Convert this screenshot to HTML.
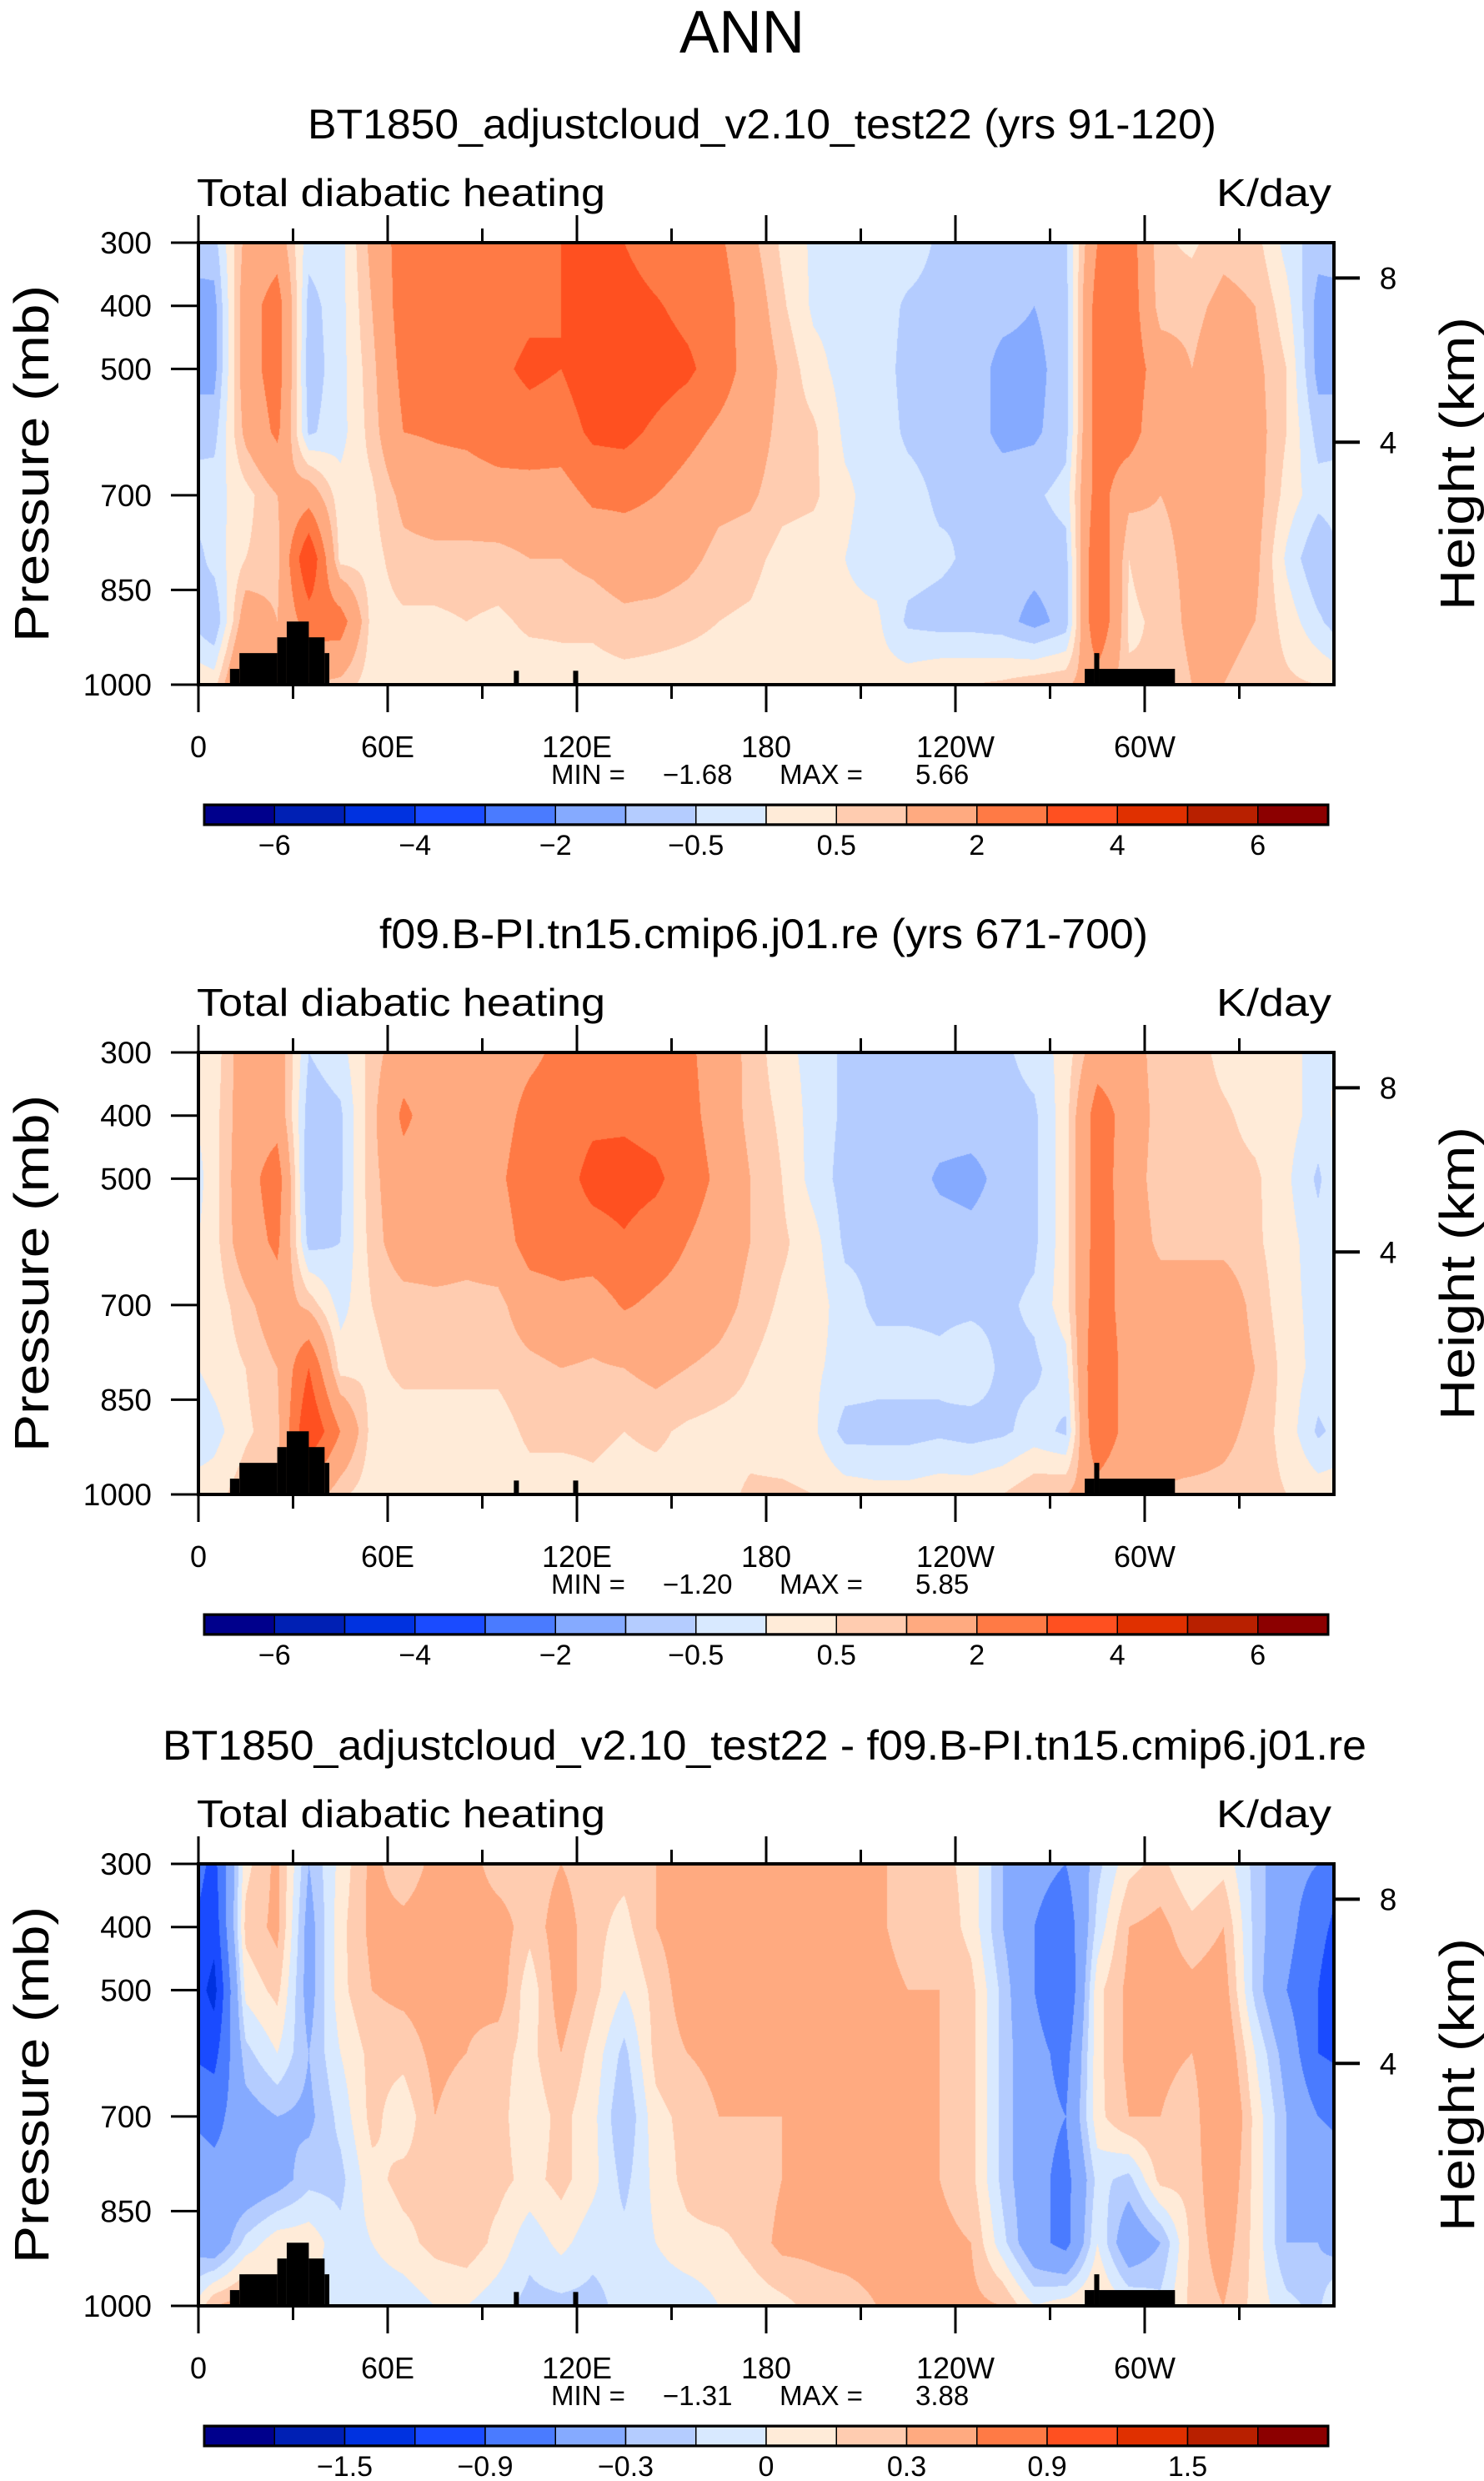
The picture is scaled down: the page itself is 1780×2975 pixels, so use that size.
<!DOCTYPE html>
<html><head><meta charset="utf-8">
<style>
html,body{margin:0;padding:0;background:#fff;}
#wrap{position:relative;width:1780px;height:2975px;overflow:hidden;}
canvas{position:absolute;}
svg{position:absolute;left:0;top:0;}
text{font-family:"Liberation Sans",sans-serif;fill:#000;}
</style></head>
<body>
<div id="wrap">
<canvas id="c0"></canvas>
<canvas id="c1"></canvas>
<canvas id="c2"></canvas>
<svg id="ov" width="1780" height="2975"></svg>
</div>
<script>
// ---------- data ----------
const lonCenters = [5,15,25,35,45,55,65,75,85,95,105,115,125,135,145,155,165,175,185,195,205,215,225,235,245,255,265,275,285,295,305,315,325,335,345,355];
const pLevels = [300,400,500,600,700,800,900,1000];
const pressureTicks = [300,400,500,700,850,1000];
const lonTicks = [0,60,120,180,240,300];
const lonTickLabels = ["0","60E","120E","180","120W","60W"];
const heightTicks = [8,4];
const heightTickPress = [356,616];
const absLevels = [-6,-5,-4,-3,-2,-1,-0.5,0,0.5,1,2,3,4,5,6];
const absLabels = ["-6","","-4","","-2","","-0.5","","0.5","","2","","4","","6"];
const diffLevels = [-1.8,-1.5,-1.2,-0.9,-0.6,-0.3,-0.15,0,0.15,0.3,0.6,0.9,1.2,1.5,1.8];
const diffLabels = ["","-1.5","","-0.9","","-0.3","","0","","0.3","","0.9","","1.5",""];
const colors = ["#00008C","#0020B4","#0032E0","#1A4BFF","#4A7BFF","#85AAFF","#B4CCFF","#D8E9FF","#FFEBD8","#FFCCB0","#FFAA80","#FF7A45","#FF5020","#E03000","#B82000","#8C0000"];
const landStart = [10,13,25,28,35,40,100,118.8,281,284,285.6];
const landEnd   = [13,25,28,35,40,41.5,101.6,120.4,284,285.6,309.6];
const landTop   = [975,950,925,900,925,950,978,978,975,950,975];

const ctlField = [
[-0.7,-1.2,-1.2,-0.7,-0.2,-0.3,-1.0,0.3],
[1.2,1.5,1.5,1.2,0.3,0.5,1.5,2.5],
[1.5,2.5,2.5,2.2,1.0,0.8,1.0,1.0],
[-0.3,-0.7,-0.8,-0.6,1.5,4,2.5,1],
[-0.2,-0.2,-0.2,-0.2,0.2,0.3,2.5,0.8],
[1.2,1.0,0.8,0.7,0.4,0.3,0.3,0.2],
[2.5,2.5,2.3,2.0,1.2,0.8,0.4,0.2],
[2.5,2.5,2.5,2.1,1.5,0.8,0.4,0.2],
[2.5,2.5,2.6,2.2,1.5,0.8,0.5,0.2],
[2.2,2.5,2.8,2.5,1.6,0.8,0.4,0.2],
[2.5,2.8,3.2,2.6,1.6,1.0,0.6,0.2],
[3.0,3.0,3.0,2.5,1.6,1.0,0.6,0.3],
[3.2,3.3,3.6,3.2,2.2,1.2,0.6,0.3],
[3.0,3.4,3.8,3.3,2.2,1.5,0.8,0.3],
[2.5,3.1,3.5,2.8,2.0,1.5,0.7,0.3],
[2.3,2.7,3.2,2.3,1.6,1.2,0.6,0.3],
[2.2,2.5,2.5,1.8,1.2,0.8,0.5,0.3],
[1.2,1.5,1.6,1.4,1.1,0.7,0.4,0.2],
[0.4,0.6,0.9,0.8,0.7,0.3,0.1,0.2],
[-0.1,-0.1,0.2,0.6,0.6,0.2,0.1,0.2],
[-0.2,-0.2,-0.2,-0.1,0.1,0.0,0.1,0.2],
[-0.2,-0.2,-0.2,-0.2,-0.2,-0.2,0.1,0.2],
[-0.2,-0.6,-0.7,-0.6,-0.3,-0.3,-0.6,0.3],
[-0.6,-0.7,-0.7,-0.7,-0.6,-0.4,-0.7,0.5],
[-0.7,-0.7,-0.7,-0.7,-0.5,-0.6,-0.7,0.5],
[-0.7,-0.8,-1.2,-1.2,-0.6,-0.7,-0.8,0.6],
[-0.7,-1.0,-1.2,-1.1,-0.6,-0.8,-1.2,0.8],
[-0.6,-0.7,-0.7,-0.7,-0.3,-0.7,-0.8,0.9],
[2.0,2.5,2.5,2.5,2.5,3.0,3.0,1.5],
[2.5,2.6,2.6,2.5,1.2,0.5,0.4,0.6],
[0.6,0.7,1.5,1.2,1.0,0.8,0.6,0.5],
[0.4,0.8,1.0,1.0,1.2,1.2,1.2,1.0],
[0.8,1.2,1.5,1.5,1.5,1.5,1.2,1.0],
[0.7,1.0,1.2,1.3,1.3,1.2,1.0,0.8],
[-0.2,0.2,0.5,0.5,0.3,-0.1,0.3,0.6],
[-0.8,-1.2,-1.2,-0.7,-0.3,-1.0,-0.4,0.5]];

const refField = [
[0.2,0.3,0.3,0.3,0.2,0.2,-0.2,0.3],
[1.5,1.5,1.6,1.5,0.8,0.5,0.4,0.8],
[1.5,1.6,2.5,2.2,1.5,1.0,0.8,1.0],
[-0.5,-0.8,-1.0,-0.7,0.8,3.0,4.0,1.5],
[-0.2,-0.6,-0.6,-0.5,-0.2,0.3,2.0,0.6],
[0.7,0.8,0.8,0.7,0.5,0.4,0.3,0.2],
[1.5,2.2,1.6,1.5,0.7,0.6,0.3,0.2],
[1.5,1.5,1.5,1.5,0.8,0.6,0.3,0.2],
[1.5,1.5,1.5,1.3,0.8,0.6,0.3,0.2],
[1.5,1.6,1.8,1.5,0.8,0.6,0.3,0.2],
[1.8,2.3,2.6,2.4,1.5,0.8,0.6,0.3],
[2.2,2.5,2.6,2.5,1.7,1.0,0.6,0.3],
[2.5,2.8,3.3,2.6,1.5,0.9,0.6,0.4],
[2.5,2.8,3.4,2.9,2.1,1.0,0.5,0.3],
[2.5,2.6,3.2,2.5,1.8,1.2,0.6,0.3],
[2.2,2.3,2.5,2.0,1.6,1.0,0.4,0.3],
[1.5,1.6,1.8,1.5,1.3,0.8,0.3,0.3],
[0.8,0.8,1.0,1.0,0.8,0.5,0.3,0.6],
[0.2,0.4,0.5,0.6,0.4,0.2,0.2,0.6],
[-0.2,-0.2,-0.2,0.2,0.3,0.1,0.1,0.5],
[-0.6,-0.6,-0.7,-0.6,-0.3,-0.2,-0.7,0.3],
[-0.6,-0.7,-0.7,-0.6,-0.6,-0.3,-0.7,0.2],
[-0.6,-0.7,-0.7,-0.7,-0.6,-0.3,-0.7,0.2],
[-0.6,-0.7,-1.1,-0.7,-0.6,-0.4,-0.6,0.3],
[-0.6,-0.7,-1.2,-0.8,-0.6,-0.2,-0.7,0.3],
[-0.6,-0.7,-0.8,-0.7,-0.6,-0.6,-0.6,0.5],
[-0.3,-0.6,-0.6,-0.6,-0.4,-0.6,-0.3,0.9],
[0.2,0.3,0.3,0.3,0.3,-0.2,-0.6,1.0],
[1.5,2.5,2.5,2.5,2.6,3.0,3.0,1.5],
[1.5,1.6,1.5,1.6,1.5,1.5,1.5,1.0],
[0.6,0.7,0.6,0.8,1.5,1.5,1.2,1.0],
[0.8,0.8,0.7,0.8,1.5,1.2,1.5,0.8],
[0.3,0.6,0.7,0.8,1.5,1.5,1.2,0.8],
[0.2,0.3,0.6,0.6,0.8,1.0,0.8,0.7],
[0.2,0.2,0.1,0.2,0.2,0.3,0.3,0.5],
[-0.2,-0.2,-0.6,-0.3,-0.2,-0.2,-0.6,0.3]];

const diffField = [
[-1.0,-1.1,-1.3,-1.0,-0.7,-0.5,-0.5,0.3],
[0.1,0.2,0.05,-0.2,-0.4,-0.5,-0.1,0.4],
[0.35,0.35,0.2,0.0,-0.3,-0.4,0.1,0.2],
[-0.3,-0.4,-0.4,-0.3,-0.35,-0.2,0.1,0.0],
[0.05,0.1,0.1,0.0,-0.1,-0.2,-0.1,-0.1],
[0.35,0.35,0.3,0.2,0.2,0.1,0.0,-0.1],
[0.2,0.35,0.35,0.2,0.05,0.2,0.1,-0.1],
[0.35,0.4,0.4,0.35,0.3,0.2,0.2,0.0],
[0.4,0.4,0.35,0.3,0.2,0.2,0.25,0.0],
[0.2,0.4,0.4,0.2,0.2,0.2,0.1,-0.1],
[0.2,0.2,0.05,0.1,0.05,0.1,-0.1,-0.2],
[0.3,0.4,0.4,0.3,0.2,0.2,0.05,-0.2],
[0.2,0.2,0.2,0.1,0.05,0.05,-0.1,-0.2],
[0.2,0.1,0.0,-0.2,-0.3,-0.2,-0.1,-0.1],
[0.3,0.3,0.2,0.2,0.1,0.05,0.0,-0.1],
[0.4,0.4,0.4,0.3,0.2,0.2,0.1,-0.1],
[0.4,0.5,0.6,0.35,0.3,0.3,0.1,0.0],
[0.4,0.5,0.6,0.4,0.3,0.2,0.2,0.05],
[0.4,0.4,0.4,0.4,0.3,0.3,0.35,0.1],
[0.4,0.4,0.6,0.4,0.4,0.4,0.35,0.2],
[0.35,0.4,0.4,0.4,0.4,0.4,0.4,0.2],
[0.35,0.35,0.4,0.4,0.4,0.35,0.4,0.3],
[0.2,0.2,0.3,0.35,0.35,0.35,0.4,0.3],
[0.2,0.25,0.3,0.3,0.3,0.3,0.35,0.3],
[0.1,0.1,0.2,0.2,0.2,0.2,0.3,0.35],
[-0.3,-0.3,-0.2,-0.2,-0.2,-0.2,-0.1,0.3],
[-0.5,-0.6,-0.6,-0.5,-0.5,-0.5,-0.5,0.0],
[-0.6,-0.8,-0.9,-0.7,-0.6,-0.7,-0.7,0.1],
[-0.2,-0.1,0.1,0.1,0.1,-0.1,0.0,0.2],
[0.1,0.3,0.35,0.35,0.3,-0.2,-0.5,0.0],
[0.2,0.35,0.4,0.35,0.3,0.2,-0.3,-0.1],
[0.0,0.2,0.35,0.3,0.2,0.2,0.2,0.2],
[0.1,0.3,0.4,0.5,0.6,0.5,0.4,0.3],
[-0.2,-0.2,-0.2,0.0,0.1,0.1,0.1,0.1],
[-0.5,-0.5,-0.6,-0.4,-0.3,-0.3,-0.3,-0.1],
[-0.6,-0.8,-0.9,-0.9,-0.6,-0.4,-0.3,-0.2]];

const panelTitles = ["BT1850_adjustcloud_v2.10_test22 (yrs 91-120)","f09.B-PI.tn15.cmip6.j01.re (yrs 671-700)","BT1850_adjustcloud_v2.10_test22 - f09.B-PI.tn15.cmip6.j01.re"];
const panelMin = ["-1.68","-1.20","-1.31"];
const panelMax = ["5.66","5.85","3.88"];

// ---------- layout ----------
const X0=238, X1=1600, Y0=291, Y1=821;
const panelOffsets=[0,971,1944];
const titleBox=[[369,1090],[455,922],[195,1444]];
function xScale(lon){return X0+lon/360*(X1-X0);}
function yScale(p){return Y0+(p-300)/700*(Y1-Y0);}
const NS="http://www.w3.org/2000/svg";
const ov=document.getElementById('ov');
function mk(tag,attrs,parent){const e=document.createElementNS(NS,tag);for(const k in attrs)e.setAttribute(k,attrs[k]);(parent||ov).appendChild(e);return e;}
function hex(c){return [parseInt(c.substr(1,2),16),parseInt(c.substr(3,2),16),parseInt(c.substr(5,2),16)];}
const rgb=colors.map(hex);
function binOf(v,levels){let i=0;while(i<levels.length&&v>=levels[i])i++;return i;}
function sample(field,lon,p){
  let fx=(lon-5)/10; let i0=Math.floor(fx); let t=fx-i0;
  const n=lonCenters.length; const a=((i0%n)+n)%n, b=(((i0+1)%n)+n)%n;
  let fy=(p-300)/100; if(fy<0)fy=0; if(fy>7)fy=7; let j0=Math.min(6,Math.floor(fy)); let u=fy-j0;
  const v00=field[a][j0],v01=field[a][j0+1],v10=field[b][j0],v11=field[b][j0+1];
  return (v00*(1-t)+v10*t)*(1-u)+(v01*(1-t)+v11*t)*u;
}
mk('text',{x:890,y:63,'text-anchor':'middle','font-size':72,textLength:150,lengthAdjust:'spacingAndGlyphs',}).textContent="ANN";

const fields=[ctlField,refField,diffField];
fields.forEach((field,k)=>{
  const off=panelOffsets[k];
  const levels=k===2?diffLevels:absLevels;
  const labels=k===2?diffLabels:absLabels;
  const cv=document.getElementById('c'+k);
  const W=X1-X0,H=Y1-Y0;
  cv.width=W;cv.height=H;cv.style.left=X0+'px';cv.style.top=(Y0+off)+'px';
  const ctx=cv.getContext('2d');const img=ctx.createImageData(W,H);
  for(let y=0;y<H;y++){const p=300+(y+0.5)/H*700;
    for(let x=0;x<W;x++){const lon=(x+0.5)/W*360;
      const c=rgb[binOf(sample(field,lon,p),levels)];const o=(y*W+x)*4;
      img.data[o]=c[0];img.data[o+1]=c[1];img.data[o+2]=c[2];img.data[o+3]=255;}}
  ctx.putImageData(img,0,0);
  const g=mk('g',{transform:`translate(0,${off})`});
  
  
  landStart.forEach((s,i)=>{
    const r=mk('rect',{x:xScale(s),y:yScale(landTop[i]),width:xScale(landEnd[i])-xScale(s),height:Y1-yScale(landTop[i]),fill:'#000'},g);
    
    
  });
  const t=mk('text',{x:titleBox[k][0],y:166,'font-size':50,textLength:titleBox[k][1],lengthAdjust:'spacingAndGlyphs'},g);
  
  
  t.textContent=panelTitles[k];
  const l=mk('text',{x:236,y:247,'font-size':46,textLength:490,lengthAdjust:'spacingAndGlyphs'},g);
  
  
  l.textContent="Total diabatic heating";
  const r2=mk('text',{x:1459,y:247,'font-size':46,textLength:138,lengthAdjust:'spacingAndGlyphs'},g);
  
  
  r2.textContent="K/day";
  const fr=mk('rect',{x:X0,y:Y0,width:X1-X0,height:Y1-Y0,fill:'none',stroke:'#000','stroke-width':4},g);
  
  
  for(let lon=0;lon<360;lon+=30){
    const major=lon%60===0;const x=xScale(lon);const len=major?33:17;
    mk('line',{x1:x,y1:Y0,x2:x,y2:Y0-len,stroke:'#000','stroke-width':3},g);
    mk('line',{x1:x,y1:Y1,x2:x,y2:Y1+len,stroke:'#000','stroke-width':3},g);
  }
  lonTicks.forEach((lon,i)=>{
    const tx=mk('text',{x:xScale(lon),y:908,'text-anchor':'middle','font-size':36},g);
    
    
    tx.textContent=lonTickLabels[i];
  });
  pressureTicks.forEach(p=>{
    const y=yScale(p);
    mk('line',{x1:X0,y1:y,x2:X0-33,y2:y,stroke:'#000','stroke-width':3},g);
    const ty=mk('text',{x:182,y:y+13,'text-anchor':'end','font-size':37},g);
    
    
    ty.textContent=p;
  });
  heightTicks.forEach((h,i)=>{
    const y=yScale(heightTickPress[i]);
    mk('line',{x1:X1,y1:y,x2:X1+31,y2:y,stroke:'#000','stroke-width':4},g);
    const th=mk('text',{x:1665,y:y+13,'text-anchor':'middle','font-size':37},g);
    
    
    th.textContent=h;
  });
  const yt=mk('text',{x:0,y:0,'text-anchor':'middle','font-size':58,transform:'translate(58,556) rotate(-90)',textLength:428,lengthAdjust:'spacingAndGlyphs'},g);
  
  
  yt.textContent="Pressure (mb)";
  const ht=mk('text',{x:0,y:0,'text-anchor':'middle','font-size':58,transform:'translate(1768,556) rotate(-90)',textLength:352,lengthAdjust:'spacingAndGlyphs'},g);
  
  
  ht.textContent="Height (km)";
  // MIN/MAX pieces
  const mmParts=[["MIN =",661],["\u2212"+panelMin[k].slice(1),795],["MAX =",935],[panelMax[k],1098]];
  mmParts.forEach(pp=>{
    const mm=mk('text',{x:pp[1],y:940,'font-size':33},g);
    
    
    mm.textContent=pp[0];
  });
  const bx0=245,bx1=1593,bw=(bx1-bx0)/16;
  colors.forEach((c,i)=>{
    const r=mk('rect',{x:bx0+i*bw,y:966,width:bw,height:22,fill:c,stroke:'#000','stroke-width':1.5},g);
    
    
  });
  mk('rect',{x:bx0,y:965,width:bx1-bx0,height:24,fill:'none',stroke:'#000','stroke-width':3},g);
  labels.forEach((s,i)=>{
    if(!s)return;
    const tl=mk('text',{x:bx0+(i+1)*bw,y:1025,'text-anchor':'middle','font-size':34},g);
    
    
    tl.textContent=s.replace('-','\u2212');
  });
});
</script>
</body></html>
